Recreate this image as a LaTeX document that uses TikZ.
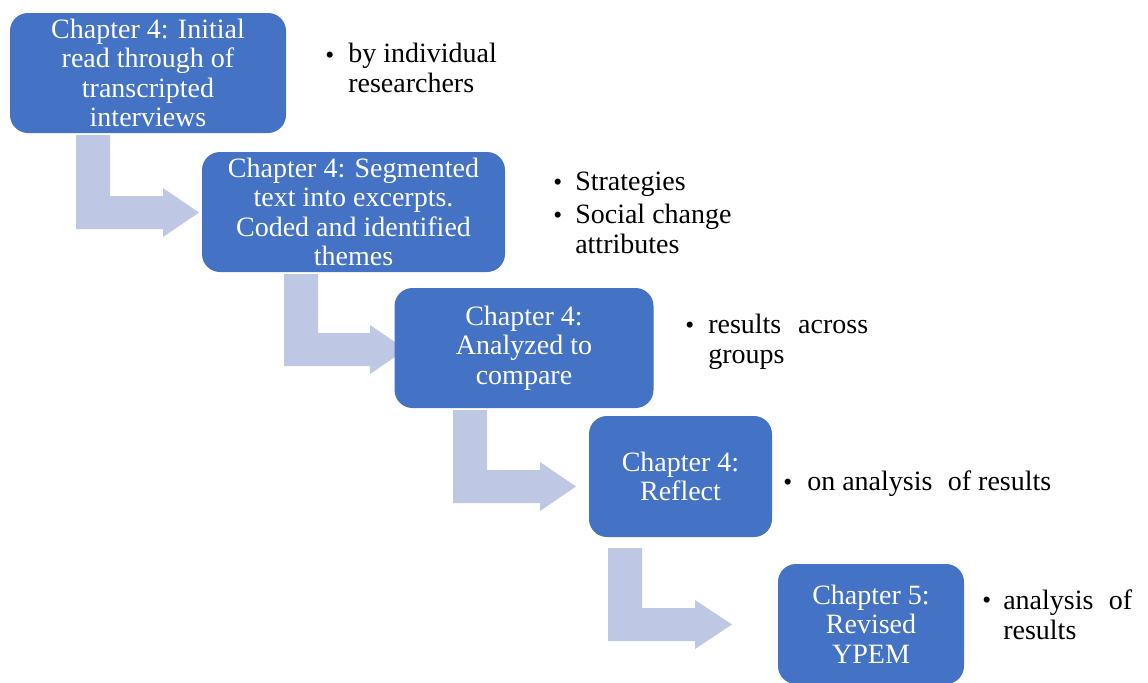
\documentclass[tikz,border=0pt]{standalone}
\usepackage{fontspec}
\setmainfont{Liberation Serif}
\usetikzlibrary{backgrounds}
\definecolor{stepblue}{RGB}{68,114,196}
\definecolor{arrowblue}{RGB}{190,200,228}

% Elbow block arrow: #1 shaft left x, #2 shaft top y, #3 bottom y, #4 head base x, #5 tip x
\newcommand\elbowarrow[5]{%
  \fill[flow] (#1,#2) -- ({#1+34},#2) -- ({#1+34},{#3-33}) -- (#4,{#3-33})
    -- (#4,{#3-41}) -- (#5,{#3-16.5}) -- (#4,{#3+8}) -- (#4,#3) -- (#1,#3) -- cycle;}

\begin{document}
\begin{tikzpicture}[x=0.75pt,y=-0.75pt,
  stepbox/.style={fill=stepblue, rounded corners=13.5pt, text=white, align=center,
    inner sep=0pt, minimum height=90pt, font=\fontsize{21}{22}\selectfont},
  note/.style={anchor=base west, align=left, inner sep=0pt, font=\fontsize{21}{22}\selectfont},
  dot/.style={anchor=base west, inner sep=0pt, font=\fontsize{19}{19}\selectfont},
  flow/.style={fill=arrowblue}]
\useasboundingbox (0,0) rectangle (1148,682);

% process steps
\node[stepbox, minimum width=207pt]    (b1) at (148,73)    {Chapter 4: Initial\\read through of\\transcripted\\interviews};
\node[stepbox, minimum width=227.25pt] (b2) at (353.5,212) {Chapter 4: Segmented\\text into excerpts.\\Coded and identified\\themes};
\node[stepbox, minimum width=194.25pt] (b3) at (524,348)   {Chapter 4:\\Analyzed to\\compare};
\node[stepbox, minimum width=137.25pt, minimum height=90.75pt] (b4) at (680.5,476.5) {Chapter 4:\\Reflect};
\node[stepbox, minimum width=139.5pt]  (b5) at (871,624)   {Chapter 5:\\Revised\\YPEM};

% notes beside each step (two-line notes sit on the baseline of their last line)
\node[dot]  (d1)  at (325,63)  {\textbullet};
\node[note] (n1)  at (348,92)  {by individual\\researchers};
\node[dot]  (d2a) at (553,190) {\textbullet};
\node[note] (n2a) at (575,190) {Strategies};
\node[dot]  (d2b) at (553,223) {\textbullet};
\node[note] (n2b) at (575,253) {Social change\\attributes};
\node[dot]  (d3)  at (685,333) {\textbullet};
\node[note] (n3)  at (708,363) {results\hspace{0.35em} across\\groups};
\node[dot]  (d4)  at (783,490) {\textbullet};
\node[note] (n4)  at (807,490) {on analysis\hspace{0.3em} of results};
\node[dot]  (d5)  at (982,608) {\textbullet};
\node[note] (n5)  at (1003,639) {analysis\hspace{0.3em} of\\results};

% elbow arrows between consecutive steps
\begin{scope}[on background layer]
  \elbowarrow{76}{135}{229}{163}{199}
  \elbowarrow{284}{274}{366}{370}{406}
  \elbowarrow{453}{410}{503}{540}{576}
  \elbowarrow{608}{548}{641}{695}{732}
\end{scope}
\end{tikzpicture}
\end{document}
